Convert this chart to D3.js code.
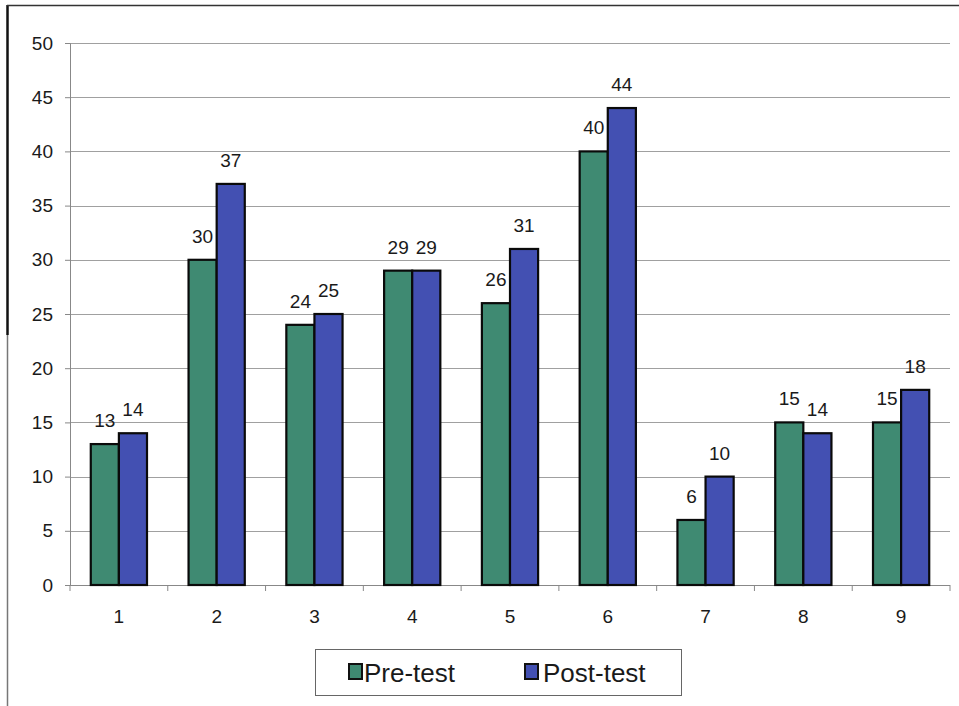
<!DOCTYPE html>
<html>
<head>
<meta charset="utf-8">
<script src="https://cdn.jsdelivr.net/npm/d3@7"></script>
<style>
  html, body { margin: 0; padding: 0; background: #fff; }
  svg { display: block; font-family: "Liberation Sans", Arial, sans-serif; }
</style>
</head>
<body>
<svg id="chart" width="959" height="706"></svg>
<script>
// Scores per item, before and after
const categories = ["1", "2", "3", "4", "5", "6", "7", "8", "9"];
const preTest  = [13, 30, 24, 29, 26, 40, 6, 15, 15];
const postTest = [14, 37, 25, 29, 31, 44, 10, 14, 18];
const seriesNames = ["Pre-test", "Post-test"];
const yTicks = [0, 5, 10, 15, 20, 25, 30, 35, 40, 45, 50];

const colors = { "Pre-test": "#3f8a72", "Post-test": "#4350b2" };

const svg = d3.select("#chart");
const plot = { left: 70, right: 950, top: 43, bottom: 585 };

// Outer frame: left and top edges
svg.append("line").attr("x1", 7.5).attr("x2", 7.5).attr("y1", 5).attr("y2", 335)
  .attr("stroke", "#111").attr("stroke-width", 2.5);
svg.append("line").attr("x1", 7.5).attr("x2", 7.5).attr("y1", 335).attr("y2", 706)
  .attr("stroke", "#777").attr("stroke-width", 1.5);
svg.append("line").attr("x1", 7).attr("x2", 959).attr("y1", 5.5).attr("y2", 5.5)
  .attr("stroke", "#333").attr("stroke-width", 1.5);

const x = d3.scaleBand().domain(categories).range([plot.left, plot.right]).paddingInner(0).paddingOuter(0);
const y = d3.scaleLinear().domain([0, 50]).range([plot.bottom, plot.top]);
const groupWidth = x.bandwidth() * 0.575;
const xs = d3.scaleBand().domain(seriesNames).range([0, groupWidth]);

// Gridlines
svg.append("g").selectAll("line").data(yTicks.filter(d => d > 0)).join("line")
  .attr("x1", plot.left).attr("x2", plot.right)
  .attr("y1", d => Math.round(y(d)) + 0.5).attr("y2", d => Math.round(y(d)) + 0.5)
  .attr("stroke", "#a0a0a0").attr("stroke-width", 1);

// Y axis
const yAxis = d3.axisLeft(y).tickValues(yTicks).tickSize(5).tickPadding(12);
const gy = svg.append("g").attr("transform", `translate(${plot.left},0)`).call(yAxis);
gy.select(".domain").attr("stroke", "#888");
gy.selectAll(".tick line").attr("stroke", "#888");
gy.selectAll("text").attr("font-size", 19).attr("fill", "#1a1a1a")
  .attr("font-family", "Liberation Sans, Arial, sans-serif");

// X axis with ticks between categories
const gx = svg.append("g").attr("transform", `translate(0,${plot.bottom})`);
gx.append("line").attr("x1", plot.left).attr("x2", plot.right).attr("y1", 0.5).attr("y2", 0.5)
  .attr("stroke", "#888");
const boundaries = categories.map(c => x(c)).concat([plot.right]);
gx.selectAll("line.tk").data(boundaries).join("line").attr("class", "tk")
  .attr("x1", d => d).attr("x2", d => d).attr("y1", 0).attr("y2", 6).attr("stroke", "#888");
gx.selectAll("text").data(categories).join("text")
  .attr("x", d => x(d) + x.bandwidth() / 2).attr("y", 38)
  .attr("text-anchor", "middle").attr("font-size", 19).attr("fill", "#1a1a1a").text(d => d);

// Bars
const rows = categories.map((c, i) => ({ cat: c, values: [
  { name: "Pre-test", value: preTest[i] },
  { name: "Post-test", value: postTest[i] }
]}));

const groups = svg.append("g").selectAll("g").data(rows).join("g")
  .attr("transform", d => `translate(${x(d.cat) + (x.bandwidth() - groupWidth) / 2},0)`);

groups.selectAll("rect").data(d => d.values).join("rect")
  .attr("x", d => xs(d.name))
  .attr("y", d => y(d.value))
  .attr("width", xs.bandwidth())
  .attr("height", d => y(0) - y(d.value))
  .attr("fill", d => colors[d.name])
  .attr("stroke", "#0a0a0a").attr("stroke-width", 2.2);

// Value labels
groups.selectAll("text").data(d => d.values).join("text")
  .attr("x", d => xs(d.name) + xs.bandwidth() / 2)
  .attr("y", d => y(d.value) - 17)
  .attr("text-anchor", "middle").attr("font-size", 19).attr("fill", "#1a1a1a")
  .text(d => d.value);

// Legend
const legend = svg.append("g");
legend.append("rect").attr("x", 315.5).attr("y", 649.5).attr("width", 366).attr("height", 46)
  .attr("fill", "#fff").attr("stroke", "#666").attr("stroke-width", 1);
const legendItems = [
  { name: "Pre-test", sx: 349, tx: 364 },
  { name: "Post-test", sx: 525, tx: 543 }
];
legendItems.forEach(it => {
  legend.append("rect").attr("x", it.sx).attr("y", 664).attr("width", 13).attr("height", 15)
    .attr("fill", colors[it.name]).attr("stroke", "#111").attr("stroke-width", 2);
  legend.append("text").attr("x", it.tx).attr("y", 682).attr("font-size", 26)
    .attr("fill", "#1a1a1a").text(it.name);
});
</script>
</body>
</html>
